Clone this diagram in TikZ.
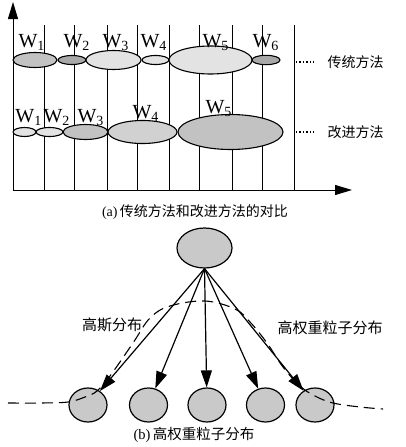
\documentclass[tikz,border=0pt]{standalone}
\usepackage{fontspec}
\setmainfont{Liberation Serif}
\newfontfamily\cjk{Noto Sans CJK SC}
\usetikzlibrary{shapes.geometric, arrows.meta}

\definecolor{gdark}{gray}{0.66}
\definecolor{gmid}{gray}{0.76}
\definecolor{gsoft}{gray}{0.82}
\definecolor{glight}{gray}{0.89}
\definecolor{gball}{gray}{0.79}

\begin{document}
\begin{tikzpicture}[x=1pt, y=-1pt, line width=1pt,
  cell/.style={ellipse, draw, line width=1.1pt, inner sep=0pt},
  ball/.style={ellipse, draw, line width=1.2pt, fill=gball, inner sep=0pt, minimum width=38, minimum height=34},
  wlbl/.style={font=\fontsize{20}{20}\selectfont, inner sep=0pt, anchor=base west},
  cjklbl/.style={font=\cjk\fontsize{14}{16}\selectfont, inner sep=0pt},
  leader/.style={line width=1.3pt, dash pattern=on 1.3pt off 2.1pt},
  axis/.style={-{Triangle[length=17pt, width=10pt]}},
  arr/.style={line width=1.2pt, -{Triangle[length=17pt, width=11pt]}}]
\useasboundingbox (0,0) rectangle (405,447);

% (a) grid and axes
\foreach \x in {44,74,107,137,169,199,232,262,294}
  \draw (\x,25) -- (\x,190);
\coordinate (O) at (13,190);
\draw[axis] (O) -- (13,2);
\draw[axis] (O) -- (352,190);

% traditional method
\foreach \n/\cx/\rx/\ry/\c in {1/35/22/7.5/gmid, 2/72/14/4.5/gdark, 3/113.5/27.5/9.5/glight,
    4/155.5/13.5/4.5/glight, 5/210.5/41.5/14/glight, 6/266/14/4.7/gdark}
  \node[cell, fill=\c, minimum width=2*\rx, minimum height=2*\ry] (trad\n) at (\cx,60) {};
\foreach \n/\lx in {1/18, 2/63, 3/102, 4/140, 5/202, 6/252}
  \node[wlbl] (tw\n) at (\lx,47) {W\textsubscript{\n}};

% improved method
\foreach \n/\cx/\rx/\ry/\c in {1/24.5/11.5/4.5/glight, 2/49.5/13.5/4.5/glight, 3/85.5/22.5/7.5/gmid,
    4/142.5/34.5/11.5/gsoft, 5/230.5/52.5/17.5/gmid}
  \node[cell, fill=\c, minimum width=2*\rx, minimum height=2*\ry] (impr\n) at (\cx,132) {};
\foreach \n/\lx/\ly in {1/15/122, 2/43/122, 3/77/122, 4/132/118, 5/205/113}
  \node[wlbl] (iw\n) at (\lx,\ly) {W\textsubscript{\n}};

\node[cjklbl, anchor=west] (trad) at (327,62) {传统方法};
\node[cjklbl, anchor=west] (impr) at (327,132) {改进方法};
\draw[leader] (296,62) -- ([xshift=-11pt]trad.west);
\draw[leader] (296,132) -- ([xshift=-11pt]impr.west);

\node[font=\fontsize{14}{16}\selectfont, inner sep=0pt] (capa) at (195,212) {(a)\,{\cjk 传统方法和改进方法的对比}};

% (b) particle weights
\node[ball, minimum width=55, minimum height=40] (root) at (204.5,248) {};
\foreach \i/\x in {1/88, 2/148.5, 3/207, 4/265.5, 5/315}
  \node[ball] (c\i) at (\x,405) {};
\foreach \i in {1,...,5}
  \draw[arr] (root.south) -- (c\i);

\draw[line width=1.1pt, dash pattern=on 11pt off 6pt] plot[smooth, tension=0.6] coordinates {
  (8,403) (40,403) (68,402) (85,397) (97,391) (110,376) (133,343) (150,318) (170,306)
  (205,301) (235,309) (250,322) (267,343) (283,367) (300,386) (315,396) (333,403) (360,407) (383,409)};

\node[cjklbl, font=\cjk\fontsize{15}{17}\selectfont] (gauss) at (112,325) {高斯分布};
\node[cjklbl, font=\cjk\fontsize{15}{17}\selectfont] (heavy) at (330,328) {高权重粒子分布};

\node[font=\fontsize{14.5}{16}\selectfont, inner sep=0pt] (capb) at (194,435) {(b)\,{\cjk 高权重粒子分布}};
\end{tikzpicture}
\end{document}
